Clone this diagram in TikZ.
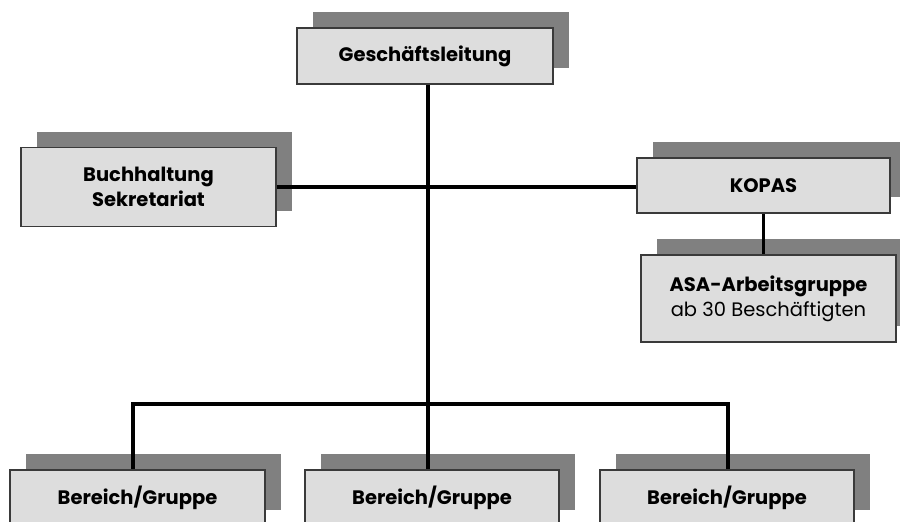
\documentclass[tikz,border=0pt]{standalone}
\usepackage{fontspec}
\setmainfont{Poppins}
\usetikzlibrary{shadows,calc}
\definecolor{boxfill}{HTML}{DDDDDD}
\definecolor{shadowgray}{HTML}{808080}
\definecolor{boxborder}{HTML}{3A3A3A}
\tikzset{
  orgbox/.style={draw=boxborder, line width=1.6pt, fill=boxfill, align=center,
    inner sep=0pt, font=\fontsize{19.5}{25}\selectfont\bfseries,
    drop shadow={shadow xshift=16pt, shadow yshift=16pt, fill=shadowgray, opacity=1}},
  conn/.style={line width=3.2pt, black}
}
\begin{document}
\begin{tikzpicture}[x=1pt,y=-1pt]
\useasboundingbox (0,0) rectangle (900,522);
\clip (0,0) rectangle (900,522);
\node[orgbox, minimum width=256pt, minimum height=56pt] (G) at (425,56) {Geschäftsleitung};
\node[orgbox, minimum width=255pt, minimum height=79pt] (B) at (148.5,187) {Buchhaltung\\Sekretariat};
\node[orgbox, minimum width=253pt, minimum height=55pt] (K) at (763.5,185.5) {KOPAS};
\node[orgbox, minimum width=255pt, minimum height=87pt] (A) at (768.5,298.5) {ASA-Arbeitsgruppe\\\mdseries ab 30 Beschäftigten};
\node[orgbox, minimum width=255pt, minimum height=56pt] (R1) at (137.5,498) {Bereich/Gruppe};
\node[orgbox, minimum width=254pt, minimum height=56pt] (R2) at (432,498) {Bereich/Gruppe};
\node[orgbox, minimum width=254pt, minimum height=56pt] (R3) at (727,498) {Bereich/Gruppe};
\coordinate (trunk) at (428,404);
\coordinate (left) at (133,404);
\coordinate (right) at (728,404);
\draw[conn] (G.south -| trunk) -- (R2.north -| trunk);
\draw[conn] (B.east) -- (B.east -| K.west);
\draw[conn] (K.south) -- (K.south |- A.north);
\draw[conn] (R1.north -| left) -- (left) -- (right) -- (R3.north -| right);
\end{tikzpicture}
\end{document}
